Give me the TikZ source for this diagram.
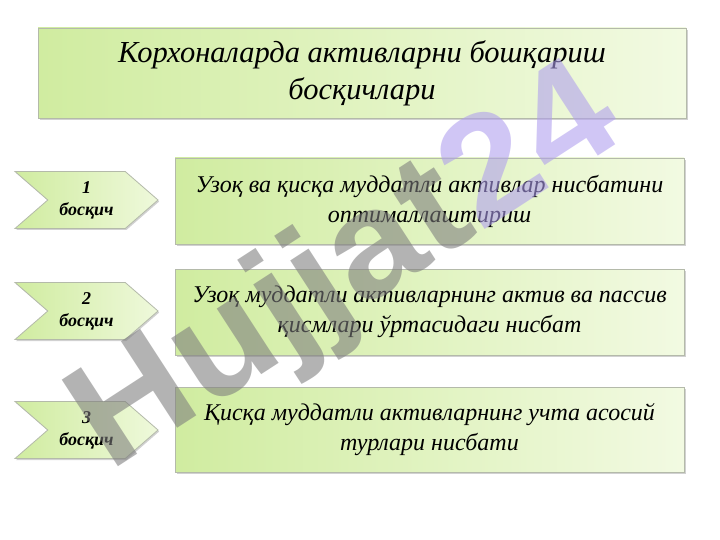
\documentclass[tikz,border=0pt]{standalone}
\usepackage{fontspec}
\setmainfont{Liberation Serif}
\newfontfamily\wmfont{Liberation Sans}
\usetikzlibrary{shapes.symbols,shadows}

\definecolor{gleft}{RGB}{208,236,160}
\definecolor{gright}{RGB}{242,250,226}
\definecolor{bord}{RGB}{180,186,170}
\definecolor{wmgray}{RGB}{125,125,125}
\definecolor{wmlav}{RGB}{175,158,238}

\tikzset{
  greenbox/.style={draw=bord, line width=0.8pt, left color=gleft, right color=gright,
    drop shadow={shadow xshift=1.5pt, shadow yshift=-1.8pt, fill=black!40, opacity=0.45},
    align=center, inner sep=0pt},
  boxtext/.style={font=\itshape\fontsize{24}{30}\selectfont},
  titletext/.style={font=\itshape\fontsize{30.5}{37}\selectfont},
  stepshape/.style={signal, signal to=east, signal from=west, signal pointer angle=82,
    draw=bord, line width=0.8pt, left color=gleft, right color=gright!90!gleft,
    drop shadow={shadow xshift=1.2pt, shadow yshift=-1.5pt, fill=black!40, opacity=0.45},
    minimum width=143pt, minimum height=57pt, inner sep=0pt, align=center,
    font=\bfseries\itshape\fontsize{18}{22}\selectfont},
  watermark/.style={rotate=33, xscale=1.06, font=\wmfont\bfseries\fontsize{150}{150}\selectfont, opacity=0.58, inner sep=0pt}
}

\begin{document}
\begin{tikzpicture}[x=1pt, y=-1pt]
  \fill[white] (0,0) rectangle (720,540);
  \useasboundingbox (0,0) rectangle (720,540);

  \node[greenbox, titletext, minimum width=648pt, minimum height=90pt] (title) at (362,73)
    {Корхоналарда активларни бошқариш\\босқичлари};

  \node[greenbox, boxtext, minimum width=509pt, minimum height=86pt] (b1) at (429.5,201)
    {Узоқ ва қисқа муддатли активлар нисбатини\\оптималлаштириш};
  \node[greenbox, boxtext, minimum width=509pt, minimum height=86pt] (b2) at (429.5,312)
    {Узоқ муддатли активларнинг актив ва пассив\\қисмлари ўртасидаги нисбат};
  \node[greenbox, boxtext, minimum width=509pt, minimum height=85pt] (b3) at (429.5,429.5)
    {Қисқа муддатли активларнинг учта асосий\\турлари нисбати};

  \node[stepshape] (s1) at (86.5,200) {1\\босқич};
  \node[stepshape] (s2) at (86.5,311) {2\\босқич};
  \node[stepshape] (s3) at (86.5,430) {3\\босқич};

  \node[watermark] (wm) at (348,272) {\textcolor{wmgray}{Hujjat}\textcolor{wmlav}{24}};
\end{tikzpicture}
\end{document}
